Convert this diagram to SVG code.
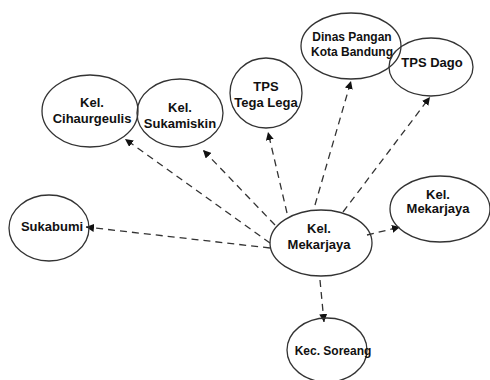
<svg xmlns="http://www.w3.org/2000/svg" width="490" height="380" viewBox="0 0 490 380">
<style>
.n{fill:none;stroke:#333;stroke-width:1.3}
.t{font-family:"Liberation Sans",Arial,sans-serif;font-weight:bold;font-size:13px;fill:#111;text-anchor:middle}
.s{font-size:12px}
.c{stroke:#333;stroke-width:1.3;stroke-dasharray:7 5;fill:none;marker-end:url(#a)}
</style>
<defs>
<marker id="a" viewBox="0 0 10 10" refX="10" refY="5" markerWidth="8" markerHeight="8" markerUnits="userSpaceOnUse" orient="auto">
<path d="M0,0 L10,5 L0,10 z" fill="#111"/>
</marker>
</defs>
<rect width="490" height="380" fill="#fff"/>
<g id="connectors">
<line class="c" x1="270" y1="243" x2="125" y2="139"/>
<line class="c" x1="275" y1="225" x2="203" y2="150"/>
<line class="c" x1="287" y1="213" x2="268" y2="132"/>
<line class="c" x1="315" y1="205" x2="351" y2="81"/>
<line class="c" x1="343" y1="212" x2="430" y2="97"/>
<line class="c" x1="270" y1="248" x2="86" y2="227"/>
<line class="c" x1="367" y1="235" x2="400" y2="227"/>
<line class="c" x1="320" y1="280" x2="324" y2="322"/>
</g>
<g id="cihaurgeulis">
<ellipse class="n" cx="90" cy="111" rx="48" ry="36"/>
<text class="t" x="92" y="107">Kel.</text>
<text class="t" x="92" y="123">Cihaurgeulis</text>
</g>
<g id="sukamiskin">
<ellipse class="n" cx="180" cy="113" rx="43" ry="34"/>
<text class="t" x="180" y="112">Kel.</text>
<text class="t" x="180" y="128">Sukamiskin</text>
</g>
<g id="tegalega">
<ellipse class="n" cx="266" cy="93" rx="36" ry="35"/>
<text class="t" x="266" y="91">TPS</text>
<text class="t" x="266" y="107">Tega Lega</text>
</g>
<g id="dinas">
<ellipse class="n" cx="351" cy="46" rx="50" ry="33"/>
<text class="t s" x="352" y="41">Dinas Pangan</text>
<text class="t s" x="352" y="56">Kota Bandung</text>
</g>
<g id="dago">
<ellipse class="n" cx="431" cy="67" rx="42" ry="29"/>
<text class="t" x="432" y="67">TPS Dago</text>
</g>
<g id="sukabumi">
<ellipse class="n" cx="49" cy="228" rx="40" ry="33"/>
<text class="t" x="52" y="231">Sukabumi</text>
</g>
<g id="mekarjaya">
<ellipse class="n" cx="321" cy="243" rx="51" ry="33"/>
<text class="t" x="319" y="233">Kel.</text>
<text class="t" x="319" y="249">Mekarjaya</text>
</g>
<g id="mekarjaya2">
<ellipse class="n" cx="440" cy="209" rx="50" ry="33"/>
<text class="t" x="438" y="199">Kel.</text>
<text class="t" x="438" y="213">Mekarjaya</text>
</g>
<g id="soreang">
<ellipse class="n" cx="327" cy="350" rx="40" ry="32"/>
<text class="t s" x="333" y="355">Kec. Soreang</text>
</g>
</svg>
